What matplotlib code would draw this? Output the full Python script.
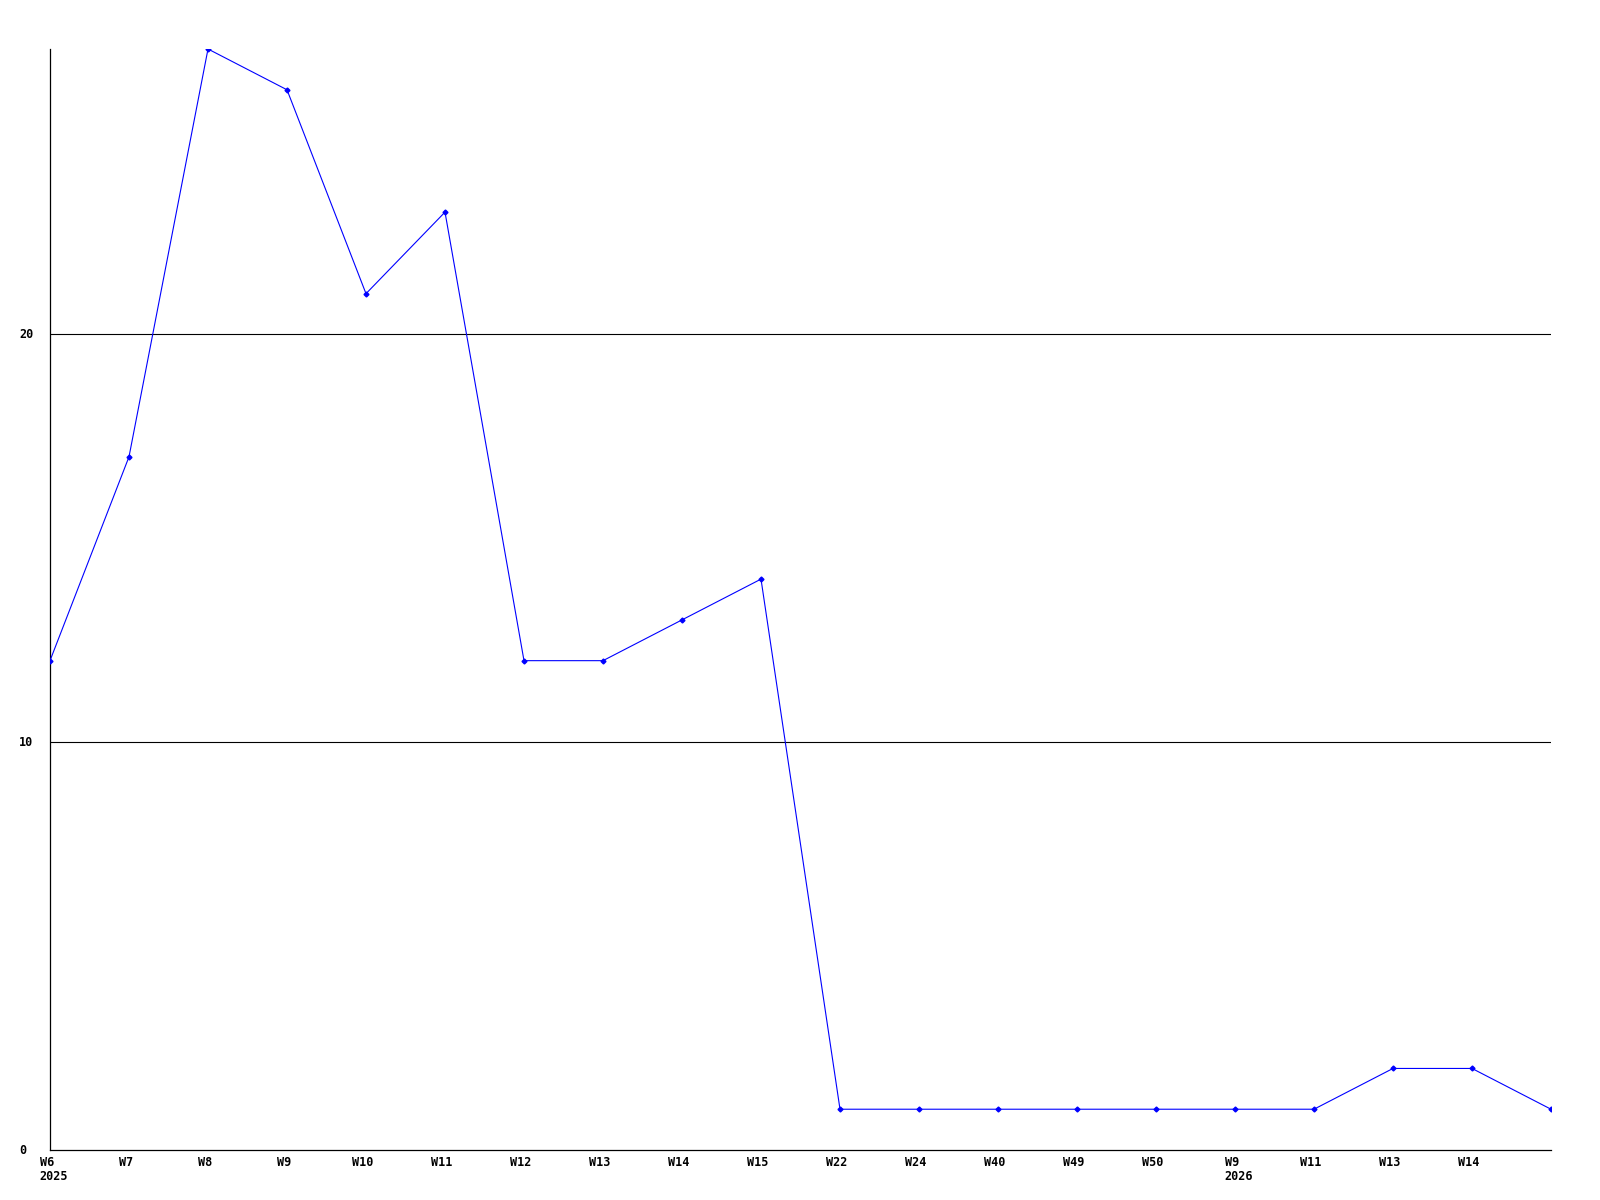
import matplotlib
matplotlib.use("Agg")
import matplotlib.pyplot as plt
from matplotlib.transforms import blended_transform_factory, offset_copy, ScaledTranslation

# weekly counts
week_labels = ["W6", "W7", "W8", "W9", "W10", "W11", "W12", "W13", "W14", "W15",
               "W22", "W24", "W40", "W49", "W50", "W9", "W11", "W13", "W14", ""]
counts = [12, 17, 27, 26, 21, 23, 12, 12, 13, 14,
          1, 1, 1, 1, 1, 1, 1, 2, 2, 1]
year_marks = [(0, "2025"), (15, "2026")]
y_ticks = [0, 10, 20]

font = dict(family="DejaVu Sans Mono", fontsize=8.5, fontweight="bold")

fig = plt.figure(figsize=(16, 12), dpi=100)
ax = fig.add_axes([50 / 1600, 1 - 1150 / 1200, 1501 / 1600, 1101 / 1200])

x = list(range(len(counts)))
for yv in y_ticks[1:]:
    ax.axhline(yv, color="black", lw=0.8, zorder=1)
ax.plot(x, counts, color="#0000ff", lw=0.8, marker="D", ms=2.5, zorder=3)

ax.set_xlim(0, len(counts) - 1)
ax.set_ylim(0, 27)
for s in ["top", "right"]:
    ax.spines[s].set_visible(False)
for s in ["left", "bottom"]:
    ax.spines[s].set_linewidth(0.9)
    ax.spines[s].set_color("black")

ax.set_xticks(x)
ax.set_xticklabels(week_labels, **font)
ax.tick_params(axis="x", length=0, pad=4)
ax.set_yticks([])
shift = ScaledTranslation(-3 / 100, 0, fig.dpi_scale_trans)
for lab in ax.get_xticklabels():
    lab.set_transform(lab.get_transform() + shift)

# year labels under the first week of each year
tr = blended_transform_factory(ax.transData, ax.transAxes)
for i, yr in year_marks:
    t = offset_copy(tr, fig=fig, x=-11, y=-26, units="dots")
    ax.text(i, 0, yr, transform=t, ha="left", va="center", **font)

ytr = blended_transform_factory(fig.transFigure, ax.transData)
for yv in y_ticks:
    ax.text(19 / 1600, yv, str(yv), transform=ytr, ha="left", va="center", **font)

fig.savefig("out.png", dpi=100)
